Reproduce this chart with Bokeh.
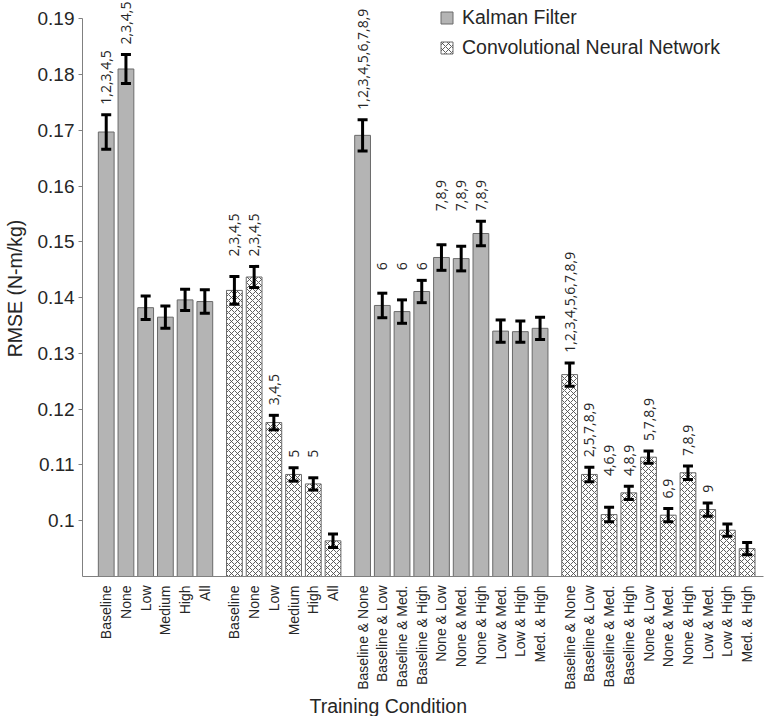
import math
from bokeh.plotting import figure
from bokeh.models import (ColumnDataSource, FixedTicker, Whisker, TeeHead, Title,
                          Legend, LegendItem, Range1d)
from bokeh.core.properties import value
from bokeh.embed import file_html
from bokeh.resources import INLINE

# ---------------- data ----------------
single_labels = ["Baseline", "None", "Low", "Medium", "High", "All"]
pair_labels = ["Baseline & None", "Baseline & Low", "Baseline & Med.", "Baseline & High",
               "None & Low", "None & Med.", "None & High", "Low & Med.", "Low & High",
               "Med. & High"]

kf_single = [0.1697, 0.1810, 0.1382, 0.1365, 0.1396, 0.1393]
kf_single_err = [0.0031, 0.0026, 0.0021, 0.0020, 0.0019, 0.0021]
kf_single_sig = ["1,2,3,4,5", "2,3,4,5", "", "", "", ""]

cnn_single = [0.1413, 0.1437, 0.1176, 0.1083, 0.1066, 0.0964]
cnn_single_err = [0.0025, 0.0019, 0.0013, 0.0012, 0.0011, 0.0012]
cnn_single_sig = ["2,3,4,5", "2,3,4,5", "3,4,5", "5", "5", ""]

kf_pair = [0.1691, 0.1386, 0.1375, 0.1411, 0.1472, 0.1470, 0.1515, 0.1340, 0.1339, 0.1345]
kf_pair_err = [0.0028, 0.0022, 0.0021, 0.0020, 0.0023, 0.0022, 0.0022, 0.0020, 0.0019, 0.0020]
kf_pair_sig = ["1,2,3,4,5,6,7,8,9", "6", "6", "6", "7,8,9", "7,8,9", "7,8,9", "", "", ""]

cnn_pair = [0.1262, 0.1083, 0.1011, 0.1050, 0.1114, 0.1010, 0.1086, 0.1020, 0.0983, 0.0950]
cnn_pair_err = [0.0021, 0.0013, 0.0013, 0.0012, 0.0011, 0.0012, 0.0012, 0.0012, 0.0011, 0.0011]
cnn_pair_sig = ["1,2,3,4,5,6,7,8,9", "2,5,7,8,9", "4,6,9", "4,8,9", "5,7,8,9", "6,9",
                "7,8,9", "9", "", ""]

y_ticks = [0.10, 0.11, 0.12, 0.13, 0.14, 0.15, 0.16, 0.17, 0.18, 0.19]
y_min, y_max = 0.09, 0.19

groups = [
    ("kf", single_labels, kf_single, kf_single_err, kf_single_sig),
    ("cnn", single_labels, cnn_single, cnn_single_err, cnn_single_sig),
    ("kf", pair_labels, kf_pair, kf_pair_err, kf_pair_sig),
    ("cnn", pair_labels, cnn_pair, cnn_pair_err, cnn_pair_sig),
]

# ---------------- layout of categories ----------------
GROUP_GAP = 0.5
bars = {"kf": dict(x=[], top=[], upper=[], lower=[]),
        "cnn": dict(x=[], top=[], upper=[], lower=[])}
tick_pos, tick_lab = [], []
ann = dict(x=[], y=[], text=[])
start = 1.0
PAD = 0.0018
for kind, labels, vals, errs, sigs in groups:
    xs = [start + i for i in range(len(vals))]
    for xi, lab, v, e in zip(xs, labels, vals, errs):
        b = bars[kind]
        b["x"].append(xi); b["top"].append(v)
        b["upper"].append(v + e); b["lower"].append(v - e)
        tick_pos.append(xi); tick_lab.append(lab)
    # annotations: consecutive runs of equal-length labels share a baseline
    i = 0
    n = len(vals)
    while i < n:
        if not sigs[i]:
            i += 1
            continue
        j = i
        while j + 1 < n and sigs[j + 1] and len(sigs[j + 1]) == len(sigs[i]):
            j += 1
        base = max(vals[k] + errs[k] for k in range(i, j + 1)) + PAD
        for k in range(i, j + 1):
            ann["x"].append(xs[k]); ann["y"].append(base); ann["text"].append(sigs[k])
        i = j + 1
    start = xs[-1] + 1 + GROUP_GAP

# ---------------- figure ----------------
W, H = 765, 716
p = figure(width=W, height=H, x_range=Range1d(-0.203, 34.33), y_range=Range1d(y_min, 0.19328),
           output_backend="svg", toolbar_location=None,
           min_border_left=80, min_border_right=2, min_border_top=0, min_border_bottom=140)
p.outline_line_color = None
p.xgrid.visible = False
p.ygrid.visible = False
p.background_fill_color = "white"

KF_FILL = "#b4b4b4"
EDGE = "#6a6a6a"
TXT = "#262626"
AX = "#808080"

kf_src = ColumnDataSource(bars["kf"])
cnn_src = ColumnDataSource(bars["cnn"])

r_kf = p.vbar(x="x", top="top", bottom=y_min, width=0.8, source=kf_src,
              fill_color=KF_FILL, line_color=EDGE, line_width=1)
r_cnn = p.vbar(x="x", top="top", bottom=y_min, width=0.8, source=cnn_src,
               fill_color="white", line_color=EDGE, line_width=1,
               hatch_pattern="x", hatch_scale=6, hatch_color="#4d4d4d", hatch_weight=0.9)

for src in (kf_src, cnn_src):
    w = Whisker(source=src, base="x", upper="upper", lower="lower", dimension="height",
                line_color="black", line_width=3, level="overlay",
                upper_head=TeeHead(size=10, line_color="black", line_width=3),
                lower_head=TeeHead(size=10, line_color="black", line_width=3))
    p.add_layout(w)

ann_src = ColumnDataSource(ann)
p.text(x="x", y="y", text="text", source=ann_src, angle=math.pi / 2,
       text_align="left", text_baseline="middle", text_font=value("Open Sans"),
       text_font_size="14px", text_color=TXT)

# axes
p.yaxis.ticker = FixedTicker(ticks=y_ticks)
p.yaxis.bounds = (y_min, y_max)
p.yaxis.major_label_overrides = {t: f"{t:g}" for t in y_ticks}
p.yaxis.major_label_text_font = "Liberation Sans"
p.yaxis.major_label_text_font_size = "19px"
p.yaxis.major_label_text_color = TXT
p.yaxis.major_label_standoff = 4
p.yaxis.axis_line_color = AX
p.yaxis.major_tick_line_color = AX
p.yaxis.major_tick_in = 0
p.yaxis.major_tick_out = 4
p.yaxis.minor_tick_line_color = None
p.yaxis.axis_label = "RMSE (N-m/kg)"
p.yaxis.axis_label_text_font = "Liberation Sans"
p.yaxis.axis_label_text_font_size = "19.5px"
p.yaxis.axis_label_text_font_style = "normal"
p.yaxis.axis_label_text_color = TXT
p.yaxis.axis_label_standoff = 9

p.xaxis.ticker = FixedTicker(ticks=tick_pos)
p.xaxis.major_label_overrides = {t: l for t, l in zip(tick_pos, tick_lab)}
p.xaxis.major_label_orientation = math.pi / 2
p.xaxis.major_label_text_font = "Liberation Sans"
p.xaxis.major_label_text_font_size = "14px"
p.xaxis.major_label_text_color = TXT
p.xaxis.major_label_standoff = 3
p.xaxis.axis_line_color = AX
p.xaxis.major_tick_line_color = None
p.xaxis.minor_tick_line_color = None

xt = Title(text="Training Condition", align="left", offset=227, standoff=0,
           text_font="Liberation Sans", text_font_size="19.5px", text_font_style="normal",
           text_color=TXT)
p.add_layout(xt, "below")

legend = Legend(items=[LegendItem(label="Kalman Filter", renderers=[r_kf]),
                       LegendItem(label="Convolutional Neural Network", renderers=[r_cnn])],
                location=(357, 517), border_line_color=None, background_fill_alpha=0,
                padding=0, margin=0, spacing=7, glyph_width=15, glyph_height=15,
                label_standoff=8, label_height=20,
                label_text_font="Liberation Sans", label_text_font_size="19.5px",
                label_text_color=TXT)
p.add_layout(legend)

open("out.html", "w").write(file_html(p, INLINE))
